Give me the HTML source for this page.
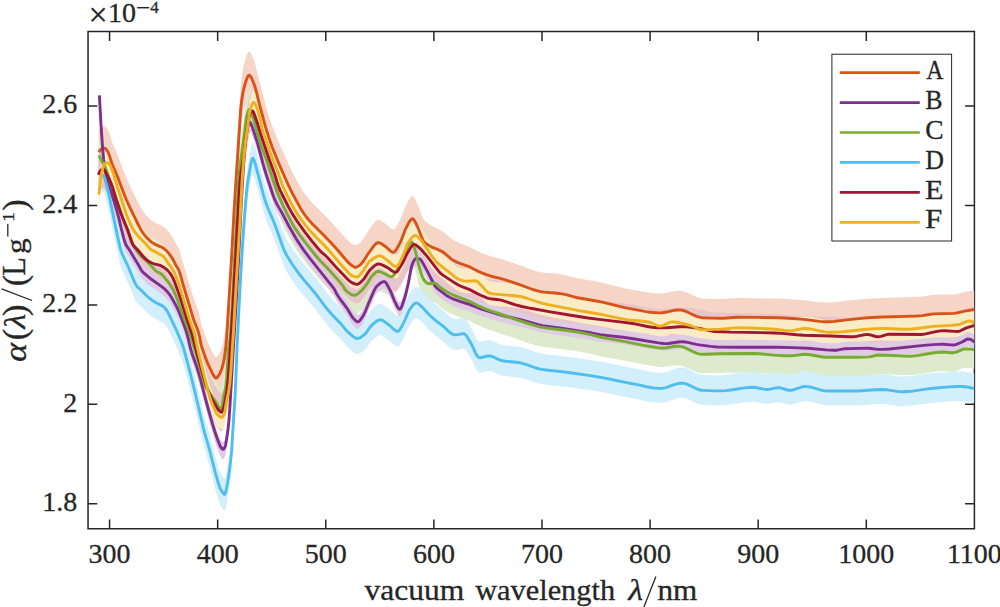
<!DOCTYPE html><html><head><meta charset="utf-8"><style>html,body{margin:0;padding:0;background:#fff;width:1000px;height:607px;overflow:hidden}svg{display:block}</style></head><body><svg width="1000" height="607" viewBox="0 0 1000 607">
<defs><clipPath id="ax"><rect x="87.95" y="31.6" width="886.4" height="497.1"/></clipPath></defs>
<rect width="1000" height="607" fill="#fff"/>
<path d="M88.05 31.6H974.4V528.7H88.05ZM109.57 528.7v-9.3M109.57 31.6v9.3M217.67 528.7v-9.3M217.67 31.6v9.3M325.78 528.7v-9.3M325.78 31.6v9.3M433.88 528.7v-9.3M433.88 31.6v9.3M541.99 528.7v-9.3M541.99 31.6v9.3M650.09 528.7v-9.3M650.09 31.6v9.3M758.19 528.7v-9.3M758.19 31.6v9.3M866.30 528.7v-9.3M866.30 31.6v9.3M974.40 528.7v-9.3M974.40 31.6v9.3M87.95 503.73h9.3M974.4 503.73h-9.3M87.95 404.31h9.3M974.4 404.31h-9.3M87.95 304.89h9.3M974.4 304.89h-9.3M87.95 205.47h9.3M974.4 205.47h-9.3M87.95 106.05h9.3M974.4 106.05h-9.3" fill="none" stroke="#262626" stroke-width="1.5"/>
<g clip-path="url(#ax)">
<path d="M98.6 130.1L100.0 128.3 101.1 127.3 103.0 126.4 104.5 126.2 105.2 126.4 106.0 127.1 108.1 130.2 109.2 132.9 112.1 142.3 117.4 154.5 122.9 169.2 126.4 178.0 129.5 184.8 138.4 203.3 140.6 207.5 142.7 210.9 146.4 215.6 149.2 218.5 151.5 220.5 154.7 222.5 162.3 226.0 164.5 227.5 166.6 229.3 169.0 232.2 172.0 236.5 173.8 239.6 175.5 243.2 178.2 247.6 179.2 249.8 180.4 253.4 183.5 264.5 193.0 296.4 198.5 311.2 199.4 314.6 201.3 324.2 205.2 335.9 207.9 342.8 212.3 352.1 214.7 356.0 215.3 356.7 215.9 357.0 216.5 356.9 217.1 356.4 219.2 353.7 220.5 351.2 221.9 347.5 223.1 343.1 224.2 337.7 225.8 325.8 227.4 305.1 231.5 237.0 234.2 186.5 240.7 86.4 242.1 74.6 243.7 65.8 245.4 59.4 246.8 55.1 248.0 52.5 248.5 52.0 249.0 51.7 249.5 51.8 250.0 52.2 251.2 53.9 252.7 57.3 254.9 63.0 265.5 104.8 269.0 116.4 272.7 127.2 277.7 139.8 287.3 161.8 291.2 170.0 295.4 178.1 299.9 186.1 303.1 191.4 306.1 195.6 309.7 200.0 312.6 203.2 318.3 208.7 330.1 220.9 347.6 240.3 351.3 243.5 354.5 245.2 355.7 245.3 357.1 244.8 359.5 243.2 361.4 241.4 363.4 238.8 368.3 230.8 373.2 224.0 375.4 221.4 377.2 220.1 378.1 219.9 379.1 220.0 381.5 221.0 386.7 224.7 390.3 228.1 391.8 229.1 393.3 229.5 394.6 228.9 395.6 227.8 396.7 226.2 400.4 219.4 405.1 207.1 408.6 200.3 410.8 197.0 411.7 196.2 412.6 196.0 413.2 196.3 413.8 196.8 415.3 199.4 418.7 207.0 421.8 215.5 423.1 218.5 424.1 220.0 426.1 222.0 431.7 225.7 442.7 231.4 445.1 233.2 450.9 238.4 454.2 240.5 460.4 243.5 470.3 247.2 478.8 251.7 481.9 253.2 491.4 256.6 501.1 259.1 506.9 260.9 520.4 265.4 532.6 270.0 538.4 271.7 543.9 272.7 557.1 273.7 562.3 274.4 577.5 278.3 597.8 281.8 624.4 288.2 645.0 292.1 653.7 293.3 661.0 293.6 665.3 293.0 675.3 290.9 680.1 290.6 682.4 290.9 684.9 291.7 696.6 297.0 699.4 298.0 701.9 298.4 711.3 298.9 719.7 299.0 737.1 298.1 778.8 298.6 801.1 299.9 819.7 302.2 827.8 302.6 834.3 302.3 848.9 300.5 871.9 298.4 882.8 297.9 916.5 296.9 922.3 296.5 933.9 294.8 953.9 294.4 957.1 293.9 964.7 292.0 974.4 290.5 974.4 328.5 964.7 330.1 957.1 332.0 953.9 332.5 933.9 332.9 922.3 334.7 916.5 335.1 882.8 336.1 871.9 336.7 848.9 338.8 834.3 340.7 827.8 341.1 819.7 340.6 801.1 338.4 778.8 337.1 737.1 336.7 719.7 337.7 711.3 337.6 701.9 337.2 699.4 336.7 696.6 335.8 684.9 330.5 682.4 329.8 680.1 329.4 675.3 329.8 665.4 331.9 661.2 332.4 654.3 332.2 646.0 331.2 624.6 327.2 597.7 320.8 577.5 317.4 562.3 313.6 557.1 312.9 544.0 311.9 538.5 311.0 532.7 309.3 520.3 304.7 506.1 299.9 500.3 298.2 491.0 296.0 481.8 292.8 478.8 291.4 470.2 287.0 460.6 283.6 454.7 281.0 451.1 278.8 444.9 273.4 442.4 271.6 439.3 270.0 431.3 266.7 427.7 264.8 425.7 263.4 423.9 261.7 423.0 260.4 421.8 257.7 418.8 249.7 415.4 242.3 413.9 239.7 413.2 239.0 412.6 238.8 411.7 239.0 410.8 239.7 408.6 243.0 405.1 249.9 400.4 262.2 396.7 269.0 395.6 270.6 394.6 271.7 393.3 272.3 391.8 272.0 390.3 270.9 386.7 267.6 381.5 264.0 379.1 262.9 378.1 262.9 377.2 263.1 375.5 264.3 373.5 266.6 368.4 273.6 363.9 280.8 361.8 283.5 359.7 285.5 357.5 286.9 356.0 287.6 354.7 287.5 351.5 285.7 348.0 282.6 337.8 270.8 331.7 264.1 323.0 255.0 312.8 245.0 309.9 241.9 306.5 237.8 303.6 233.8 300.7 229.2 296.9 222.5 292.1 213.6 287.6 204.3 278.0 182.4 272.3 168.4 268.8 158.5 265.5 147.9 254.9 107.8 251.3 99.1 250.1 97.3 249.1 96.7 248.6 97.0 248.1 97.5 246.9 100.0 245.6 104.0 243.7 111.0 242.1 119.6 240.7 131.3 234.2 230.6 231.5 280.8 227.4 348.4 225.8 368.9 224.2 380.7 223.1 386.1 221.9 390.5 220.5 394.2 219.2 396.8 217.1 399.5 216.5 400.0 215.9 400.1 215.3 399.8 214.7 399.1 212.3 395.2 207.9 385.9 205.2 379.1 201.3 367.4 199.4 357.8 198.5 354.4 193.0 339.7 183.5 307.8 180.4 296.8 179.2 293.2 178.2 291.0 175.5 286.6 173.8 283.0 172.0 279.9 169.0 275.7 166.6 272.8 164.5 271.0 162.3 269.5 154.7 266.1 151.5 264.1 149.2 262.1 146.4 259.2 142.7 254.5 140.6 251.2 138.4 247.0 129.5 228.6 126.4 221.8 122.9 213.1 117.4 198.3 112.1 186.2 109.2 176.8 108.1 174.2 106.0 171.0 105.2 170.3 104.5 170.1 103.0 170.4 101.1 171.2 100.0 172.3 98.6 174.1Z" fill="#F6D4C6"/>
<path d="M98.8 135.3L104.3 145.4 105.7 148.5 112.7 168.2 121.3 193.8 127.9 210.3 132.1 222.4 134.1 226.6 136.9 231.1 140.1 235.1 150.3 244.8 152.3 246.9 154.6 249.8 156.4 251.2 160.9 253.7 163.6 256.3 170.0 264.5 171.9 267.5 173.8 271.2 176.0 276.1 178.1 281.4 184.5 299.5 190.2 314.5 200.1 347.9 203.5 360.8 204.7 364.5 205.8 366.9 207.2 369.3 214.9 380.6 218.1 385.7 219.6 388.4 220.3 389.1 220.7 389.0 221.2 388.4 222.3 385.6 223.4 377.6 225.3 369.2 226.0 365.0 226.7 357.2 228.5 328.9 228.9 325.0 229.9 319.2 230.5 312.9 232.1 286.7 238.3 164.8 239.2 153.5 240.1 145.5 244.5 112.9 246.3 98.0 248.0 91.6 248.7 90.1 249.4 89.5 250.1 90.0 250.8 91.2 253.2 97.7 259.7 121.3 266.4 139.6 276.6 170.4 279.6 177.9 283.3 186.2 286.9 193.6 291.3 201.9 295.4 208.9 299.7 215.2 307.7 225.7 314.8 234.5 320.2 240.7 328.0 248.8 339.7 261.9 343.1 266.2 345.3 269.9 349.2 273.2 350.9 274.3 352.4 274.9 354.6 275.3 356.2 274.9 358.1 273.6 361.6 270.5 364.0 267.8 367.5 263.1 371.6 256.5 374.8 253.2 376.8 251.7 378.3 251.4 380.4 251.8 390.3 256.6 391.7 256.8 392.8 256.1 394.0 254.8 396.1 251.9 397.6 249.2 400.5 242.9 404.3 233.6 407.9 225.6 408.8 224.2 410.1 222.9 411.0 222.2 411.8 222.0 412.4 222.5 413.0 223.7 415.2 230.6 418.8 245.7 422.1 256.2 423.8 259.7 425.6 261.8 427.1 263.1 428.0 263.5 428.8 263.7 434.2 263.1 435.7 263.3 436.9 264.2 440.0 267.2 445.4 271.0 449.4 273.3 452.7 274.8 468.3 280.9 479.0 286.2 486.6 289.3 529.7 304.0 535.9 305.9 541.2 307.1 548.4 308.2 565.2 310.2 580.2 312.5 590.6 314.6 598.5 316.7 602.3 317.6 619.9 320.6 645.8 325.8 656.8 327.6 660.2 328.0 663.2 328.0 675.5 326.3 678.3 326.2 680.4 326.4 682.7 326.9 685.2 327.9 696.4 333.1 699.1 333.9 701.6 334.3 719.6 333.7 753.6 333.5 759.5 333.8 773.9 335.1 790.0 335.8 793.7 335.6 802.0 334.5 805.5 334.3 810.4 334.7 821.1 336.7 825.8 337.3 858.2 337.2 868.6 336.9 876.4 335.3 879.2 335.0 886.7 335.2 904.6 336.1 912.5 336.1 918.5 335.4 932.3 333.0 938.5 332.2 943.4 332.0 951.1 332.7 953.9 332.7 956.4 332.1 962.0 329.6 964.3 329.0 970.1 329.1 974.4 329.8 974.4 368.8 970.1 368.1 964.3 368.0 962.0 368.6 956.4 371.1 953.9 371.7 951.1 371.7 943.4 371.0 938.5 371.2 932.3 372.0 918.5 374.4 912.5 375.1 904.6 375.1 886.7 374.2 879.2 374.0 876.4 374.3 868.6 375.9 858.2 376.2 825.8 376.3 821.1 375.7 810.4 373.7 805.5 373.3 802.0 373.5 793.7 374.6 790.0 374.8 773.9 374.1 759.5 372.8 753.6 372.5 719.6 372.7 701.6 373.3 699.1 372.9 696.4 372.1 685.2 366.9 682.7 365.9 680.4 365.4 678.3 365.2 675.5 365.3 663.3 367.0 660.4 367.0 657.0 366.6 645.8 364.8 620.0 359.7 602.3 356.7 598.5 355.9 590.6 353.8 580.2 351.8 565.2 349.5 548.3 347.6 541.1 346.5 535.8 345.2 529.6 343.4 486.7 328.9 479.0 325.7 468.3 320.4 452.7 314.3 449.4 312.8 445.4 310.5 440.0 306.7 436.9 303.7 435.7 302.8 434.2 302.6 428.8 303.2 428.0 303.0 427.1 302.6 425.6 301.3 423.8 299.2 422.1 295.7 418.8 285.2 415.2 270.1 413.0 263.2 412.4 262.0 411.8 261.5 411.0 261.7 410.1 262.4 408.8 263.7 407.9 265.1 404.3 273.1 400.5 282.4 397.6 288.7 396.1 291.4 394.0 294.3 392.8 295.6 391.7 296.3 390.3 296.1 380.4 291.3 378.3 290.9 376.8 291.2 374.8 292.7 371.6 296.0 367.5 302.6 364.0 307.3 361.6 310.0 358.1 313.1 356.2 314.4 354.6 314.8 352.4 314.4 350.9 313.8 349.2 312.7 345.3 309.4 343.1 305.7 339.7 301.4 328.0 288.3 320.2 280.2 314.8 274.0 307.7 265.2 299.7 254.7 295.4 248.4 291.3 241.4 286.9 233.1 283.3 225.7 279.6 217.4 276.6 209.9 266.4 179.1 259.7 160.8 253.2 137.2 250.8 130.7 250.1 129.5 249.4 129.0 248.7 129.6 248.0 131.1 246.3 137.5 244.5 152.4 240.1 185.0 239.2 193.0 238.3 204.3 232.1 326.2 230.5 352.4 229.9 358.7 228.9 364.5 228.5 368.4 226.7 396.7 226.0 404.5 225.3 408.7 223.4 417.1 222.3 425.1 221.2 427.9 220.7 428.5 220.3 428.6 219.6 427.9 218.1 425.2 214.9 420.1 207.2 408.8 205.8 406.4 204.7 404.0 203.5 400.3 200.1 387.4 190.2 354.0 184.5 339.0 178.1 320.9 176.0 315.6 173.8 310.7 171.9 307.0 170.0 304.0 163.6 295.8 160.9 293.2 156.4 290.7 154.6 289.3 152.3 286.4 150.3 284.3 140.1 274.6 136.9 270.6 134.1 266.1 132.1 261.9 127.9 249.8 121.3 233.3 112.7 207.7 105.7 188.0 104.3 184.9 98.8 174.8Z" fill="#DDEACB"/>
<path d="M100.5 160.0L101.3 159.2 102.1 159.0 102.9 159.4 103.9 160.6 104.9 163.0 106.7 169.4 108.8 178.4 117.9 221.9 120.7 234.0 122.3 238.2 128.8 252.0 135.3 267.8 136.2 269.4 137.1 270.6 140.4 273.4 145.9 279.1 148.2 281.2 151.8 284.0 155.5 286.4 162.7 290.0 163.9 291.0 165.2 292.4 167.4 295.5 168.8 298.1 176.6 314.7 181.1 325.2 183.7 332.7 186.8 344.0 195.4 377.8 203.4 412.1 209.7 434.4 215.6 457.6 218.6 467.9 220.2 472.4 222.7 476.6 223.6 477.7 224.4 478.2 224.8 478.2 225.1 477.9 225.9 475.5 228.4 461.7 230.1 449.6 231.7 434.0 235.1 380.6 237.3 326.2 240.0 271.6 242.0 237.6 244.1 206.1 246.0 182.2 247.5 167.7 251.1 146.6 252.1 143.3 252.5 142.5 252.8 142.3 253.2 142.6 253.6 143.3 255.2 147.6 263.5 179.2 265.7 186.3 268.4 193.4 275.6 210.4 283.6 233.0 286.9 239.7 292.4 248.5 298.7 257.3 303.5 263.4 315.2 277.2 327.8 293.8 331.4 297.9 340.1 306.9 347.6 315.7 353.2 320.6 354.7 321.6 356.1 322.3 357.5 322.5 358.9 322.2 360.5 321.5 362.4 320.1 366.1 316.9 370.2 311.0 371.7 309.3 376.5 305.3 378.1 304.3 379.6 303.9 381.3 303.9 383.3 304.8 389.9 309.7 395.2 314.4 397.0 315.2 397.8 315.3 398.4 315.1 399.8 313.7 401.5 310.8 404.8 304.4 408.2 296.3 409.7 293.4 412.2 290.1 413.8 288.3 415.2 287.3 416.5 287.0 417.9 287.5 419.5 288.7 424.1 293.1 428.7 298.3 430.7 300.3 434.9 303.8 442.7 309.8 448.9 315.7 451.5 317.7 453.3 318.6 454.9 319.0 457.0 318.9 463.2 317.8 464.2 317.9 465.2 318.5 467.1 320.9 471.6 328.6 476.7 339.4 477.9 341.1 478.9 341.8 481.4 341.6 487.5 340.1 490.3 340.2 493.0 341.0 498.8 343.8 501.3 344.7 505.4 345.4 516.5 346.5 521.4 347.3 525.9 348.6 535.9 352.2 540.2 353.3 548.3 354.5 570.1 357.0 596.5 360.9 607.6 363.0 651.9 372.1 658.4 372.8 661.2 372.8 663.2 372.6 667.2 371.7 676.8 368.3 679.4 367.8 681.8 367.6 684.2 367.8 686.8 368.6 696.4 373.2 700.2 374.5 704.5 374.9 715.7 375.4 721.3 375.4 725.8 375.1 744.3 372.5 752.1 371.9 755.6 372.1 763.6 373.7 767.2 374.1 770.0 373.9 776.1 372.5 778.8 372.4 781.4 372.9 787.4 374.6 790.5 375.0 794.0 374.3 801.7 371.7 804.9 371.2 807.2 371.3 809.8 371.7 821.8 375.0 824.7 375.5 827.3 375.7 855.5 375.7 875.6 374.5 882.8 374.3 887.5 374.7 898.4 376.5 904.2 376.6 912.5 376.0 933.1 373.1 948.8 371.9 958.2 371.5 961.9 371.5 965.2 371.8 974.4 373.5 974.4 403.0 965.2 401.3 961.9 401.0 958.2 401.0 948.8 401.4 933.1 402.7 912.5 405.6 904.2 406.3 898.4 406.1 887.5 404.4 882.8 404.0 875.6 404.2 855.5 405.5 827.3 405.5 824.7 405.3 821.8 404.8 809.8 401.5 807.2 401.1 804.9 401.0 801.7 401.5 794.0 404.1 790.5 404.8 787.4 404.5 781.4 402.7 778.8 402.2 776.1 402.4 770.0 403.7 767.2 404.0 763.6 403.6 755.6 402.0 752.1 401.8 744.3 402.4 725.8 405.1 721.3 405.4 715.7 405.4 704.5 404.9 700.2 404.5 696.4 403.2 686.8 398.6 684.2 397.9 681.8 397.6 679.4 397.8 676.8 398.4 667.2 401.7 663.2 402.7 661.2 402.9 658.5 402.8 652.0 402.2 646.5 401.2 607.8 393.2 597.8 391.3 570.9 387.4 548.3 385.0 540.2 383.8 535.9 382.7 525.9 379.2 521.4 377.9 516.5 377.2 505.4 376.1 501.3 375.4 498.8 374.5 493.0 371.8 490.3 371.0 487.5 371.0 481.4 372.5 478.9 372.6 477.9 371.9 476.7 370.3 471.6 359.5 467.1 351.9 465.2 349.5 464.2 348.8 463.2 348.8 457.0 349.9 454.9 350.0 453.3 349.6 451.5 348.7 448.9 346.7 442.7 340.9 434.9 335.0 430.7 331.4 428.7 329.5 424.1 324.3 419.5 319.9 417.9 318.7 416.5 318.3 415.2 318.5 413.8 319.6 412.2 321.4 409.7 324.7 408.2 327.6 404.8 335.7 401.5 342.2 399.8 345.0 398.4 346.4 397.8 346.6 397.0 346.6 395.2 345.7 389.9 341.0 383.3 336.2 381.3 335.3 379.6 335.3 378.1 335.8 376.5 336.7 371.7 340.7 370.2 342.5 366.1 348.4 362.4 351.6 360.5 353.0 358.9 353.7 357.5 354.0 356.1 353.8 354.7 353.2 353.2 352.2 347.6 347.3 340.1 338.6 331.4 329.6 327.8 325.6 315.2 309.1 303.5 295.4 298.7 289.4 292.4 280.7 286.9 271.9 285.1 268.6 283.6 265.3 275.6 242.8 268.4 225.8 265.7 218.7 263.5 211.7 255.2 180.1 253.6 175.8 253.2 175.1 252.8 174.8 252.5 175.0 252.1 175.8 251.1 179.1 247.5 200.2 246.0 214.7 244.1 238.6 242.0 270.1 240.0 304.1 237.3 358.7 235.1 413.1 231.7 466.5 230.1 482.1 228.4 494.2 225.9 508.0 225.1 510.4 224.8 510.7 224.4 510.7 223.6 510.2 222.7 509.1 220.2 504.9 218.6 500.4 215.6 490.1 209.7 466.9 203.4 444.6 195.4 410.3 186.8 376.5 183.7 365.2 181.1 357.7 176.6 347.2 168.8 330.6 167.4 328.0 165.2 324.9 163.9 323.5 162.7 322.5 155.5 318.9 151.8 316.5 148.2 313.7 145.9 311.6 140.4 305.9 137.1 303.1 136.2 301.9 135.3 300.3 128.8 284.5 122.3 270.7 120.7 266.5 117.9 254.4 108.8 210.9 106.7 201.9 104.9 195.5 103.9 193.1 102.9 191.9 102.1 191.5 101.3 191.7 100.5 192.5Z" fill="#D2EFFB"/>
<path d="M98.4 155.7L99.5 153.0 100.3 151.7 102.1 150.3 103.5 150.0 104.1 150.5 104.8 151.5 108.9 159.6 110.8 163.8 112.4 167.8 116.0 180.0 120.8 194.0 127.7 211.3 131.7 223.2 132.6 225.2 133.4 226.5 134.6 227.9 137.8 231.0 142.5 236.9 145.2 239.6 147.4 241.4 150.3 243.2 153.2 244.5 155.2 245.2 159.5 246.2 161.4 246.9 163.6 248.2 165.9 249.9 167.8 251.6 169.5 253.6 171.3 256.2 173.1 259.4 174.8 263.4 179.5 276.5 182.5 285.6 187.0 300.5 191.8 314.2 197.3 335.3 204.5 361.2 206.3 366.8 209.4 374.6 212.8 381.4 218.0 390.4 220.0 392.6 221.2 393.3 221.6 393.2 221.9 393.0 222.6 391.8 223.6 389.2 224.3 386.4 226.9 371.4 228.4 357.6 232.2 300.2 239.2 174.0 240.1 161.2 241.2 152.3 243.8 136.7 246.3 115.2 248.2 102.4 249.0 98.3 250.1 94.5 251.1 92.5 251.6 91.9 252.0 91.7 252.6 92.0 253.3 92.9 254.8 96.5 257.4 104.2 260.6 114.7 269.2 140.3 274.6 154.9 277.3 163.9 278.4 167.0 282.2 175.5 288.6 188.1 292.4 194.9 297.4 202.7 305.1 213.3 311.8 222.0 318.9 230.5 321.7 233.4 327.2 238.2 337.8 250.1 348.8 261.4 350.1 262.5 352.1 263.7 355.3 265.0 356.7 265.3 357.8 265.2 359.1 264.5 360.6 263.3 364.1 259.7 368.2 253.3 369.7 251.3 374.4 246.9 375.9 245.8 377.3 245.2 379.3 245.1 381.7 245.7 388.6 249.3 393.7 252.8 395.4 253.3 396.6 252.9 397.5 252.1 398.6 250.6 402.4 244.3 407.0 234.7 410.7 228.6 412.6 226.1 413.4 225.6 414.2 225.5 415.3 225.8 416.6 226.6 419.6 229.0 421.2 230.5 427.1 237.4 439.0 252.7 440.7 254.4 443.2 256.4 454.0 263.4 458.8 266.2 461.9 267.6 469.7 270.6 478.6 275.2 486.8 278.8 490.5 279.7 498.5 280.7 502.0 281.4 505.8 282.6 515.5 285.9 521.9 287.5 530.6 289.3 550.4 292.9 570.7 296.3 588.1 299.0 631.1 304.2 652.0 308.3 656.9 308.8 661.4 308.9 679.5 307.8 686.0 307.7 691.4 308.2 700.6 309.6 710.8 311.9 715.1 312.5 730.5 313.1 774.6 314.0 781.6 314.4 803.5 316.2 830.6 317.0 849.2 317.8 854.9 317.6 864.0 315.8 867.8 315.5 870.3 315.9 875.7 317.5 878.1 317.8 880.8 317.4 886.7 315.7 889.3 315.2 921.0 315.5 925.6 314.9 935.9 312.6 940.5 311.9 944.5 311.8 954.4 312.4 958.1 312.5 960.4 311.8 965.8 309.1 974.4 306.5 974.4 344.5 965.8 347.1 960.4 349.8 958.1 350.5 954.4 350.4 944.5 349.8 940.5 349.9 935.9 350.6 925.6 352.9 921.0 353.5 889.3 353.2 886.7 353.7 880.8 355.4 878.1 355.8 875.7 355.5 870.3 353.9 867.8 353.5 864.0 353.8 854.9 355.6 849.2 355.8 830.6 355.0 803.5 354.2 781.6 352.4 774.6 352.0 730.5 351.1 715.1 350.5 710.8 349.9 700.6 347.6 691.4 346.2 686.0 345.7 679.5 345.8 661.4 346.9 656.9 346.8 652.0 346.3 631.1 342.2 588.1 337.0 570.7 334.3 550.4 330.9 530.6 327.3 521.9 325.5 515.5 323.9 505.8 320.6 502.0 319.4 498.5 318.7 490.5 317.7 486.8 316.8 478.6 313.2 469.7 308.6 461.9 305.6 458.8 304.2 454.0 301.4 443.2 294.4 440.7 292.4 439.0 290.7 427.1 275.4 421.2 268.5 419.6 267.0 416.6 264.6 415.3 263.8 414.2 263.5 413.4 263.6 412.6 264.1 410.7 266.6 407.0 272.7 402.4 282.3 398.6 288.6 397.5 290.1 396.6 290.9 395.4 291.3 393.7 290.8 388.6 287.3 381.7 283.7 379.3 283.1 377.3 283.2 375.9 283.8 374.4 284.9 369.7 289.3 368.2 291.3 364.1 297.7 360.6 301.3 359.1 302.5 357.8 303.2 356.7 303.3 355.3 303.0 352.1 301.7 350.1 300.5 348.8 299.4 337.8 288.1 327.2 276.2 321.7 271.4 318.9 268.5 311.8 260.0 305.1 251.3 297.4 240.7 292.4 232.9 288.6 226.1 282.2 213.5 278.4 205.0 277.3 201.9 274.6 192.9 269.2 178.3 260.6 152.7 257.4 142.2 254.8 134.5 253.3 130.9 252.6 130.0 252.0 129.7 251.6 129.9 251.1 130.5 250.1 132.5 249.0 136.3 248.2 140.4 246.3 153.2 243.8 174.7 241.2 190.3 240.1 199.2 239.2 212.0 232.2 338.2 228.4 395.6 226.9 409.4 224.3 424.4 223.6 427.2 222.6 429.8 221.9 431.0 221.6 431.2 221.2 431.3 220.0 430.6 218.0 428.4 212.8 419.4 209.4 412.6 206.3 404.8 204.5 399.2 197.3 373.3 191.8 352.2 187.0 338.5 182.5 323.6 179.5 314.5 174.8 301.4 173.1 297.4 171.3 294.2 169.5 291.6 167.8 289.6 165.9 287.9 163.6 286.2 161.4 284.9 159.5 284.2 155.2 283.2 153.2 282.5 150.3 281.2 147.4 279.4 145.2 277.6 142.5 274.9 137.8 269.0 134.6 265.9 133.4 264.5 132.6 263.2 131.7 261.2 127.7 249.3 120.8 232.0 116.0 218.0 112.4 205.8 110.8 201.8 108.9 197.6 104.8 189.5 104.1 188.5 103.5 188.0 102.1 188.3 100.3 189.7 99.5 191.0 98.4 193.7Z" fill="#E8C4CB"/>
<path d="M98.8 182.5L101.2 163.7 102.2 158.7 103.2 154.8 104.0 153.0 105.1 151.6 106.1 150.8 106.8 150.6 107.4 150.7 108.9 151.8 110.5 153.8 111.9 157.2 114.3 164.5 118.1 177.3 126.3 202.2 130.2 211.5 133.6 218.0 135.5 220.9 137.8 223.7 140.3 226.4 145.2 231.2 150.2 236.9 151.8 238.0 155.6 239.9 162.3 243.8 164.1 245.1 165.0 246.3 167.3 250.1 171.4 255.5 173.2 258.4 176.0 264.6 179.8 275.1 188.9 305.6 194.1 320.7 195.0 324.2 198.4 340.1 202.8 358.4 207.9 378.3 210.3 386.7 212.8 393.3 216.5 401.3 217.6 402.8 218.8 404.0 220.2 404.9 221.4 405.3 222.3 405.1 223.4 403.7 224.1 402.3 224.8 399.9 226.4 390.6 228.7 379.1 229.9 370.4 231.1 355.7 233.6 317.0 240.1 207.3 242.0 169.8 243.4 150.4 245.3 131.5 249.4 101.9 250.1 98.4 251.5 93.7 252.5 91.3 253.3 90.5 254.2 90.9 255.2 92.2 258.0 98.5 259.2 103.0 262.0 116.3 263.8 122.4 269.9 139.8 278.5 162.0 282.1 172.2 284.4 177.7 287.0 183.2 294.4 197.2 297.6 202.4 301.4 207.9 305.6 213.4 310.5 219.2 314.7 223.8 327.6 236.9 341.6 253.3 348.4 260.7 350.8 262.9 353.8 264.4 357.0 265.0 357.8 264.8 358.7 264.2 360.1 262.7 363.7 258.1 367.7 251.7 369.4 249.5 374.5 245.8 376.5 244.7 378.3 244.1 380.4 243.9 382.2 244.6 388.9 249.7 393.7 253.8 395.6 254.6 396.4 254.7 397.0 254.4 397.9 253.6 398.9 252.1 402.4 245.2 406.4 234.3 407.8 231.3 410.5 227.3 412.2 225.2 413.8 223.9 415.3 223.5 416.3 223.8 417.4 224.5 421.0 228.1 425.6 234.6 432.4 244.9 436.1 249.5 442.6 255.1 455.3 265.2 457.3 266.7 459.0 267.5 464.2 268.9 467.5 269.2 475.1 268.8 476.6 269.0 478.6 270.6 482.5 274.7 486.5 279.3 487.6 280.2 488.7 280.7 491.6 281.6 495.1 282.1 514.1 283.7 520.3 284.5 526.1 286.0 539.3 290.5 546.8 292.3 582.7 299.3 603.2 302.8 626.7 307.6 631.9 308.3 643.3 309.3 648.4 310.0 650.9 310.7 656.5 313.3 658.9 314.0 660.5 314.1 662.1 313.8 663.9 313.1 669.5 310.4 671.3 310.0 673.1 309.9 676.2 310.2 679.7 310.8 690.3 313.5 692.6 314.3 698.5 317.0 701.7 317.7 709.0 317.6 720.6 317.1 734.8 315.9 741.7 315.8 755.9 316.2 775.0 317.3 786.0 318.6 790.2 318.8 793.8 318.4 802.0 316.7 805.6 316.5 811.5 317.1 824.9 319.9 828.1 320.2 831.1 320.3 842.8 319.7 866.8 317.3 877.0 316.6 885.6 316.5 903.8 317.3 911.8 317.0 933.5 314.4 951.2 313.4 957.7 312.8 960.3 312.1 966.3 309.6 969.0 309.0 970.1 309.1 971.3 309.4 974.4 311.3 974.4 335.3 971.3 333.4 970.1 333.1 969.0 333.0 966.3 333.6 960.3 336.1 957.7 336.8 951.2 337.4 933.5 338.4 911.8 341.0 903.8 341.3 885.6 340.5 877.0 340.6 866.8 341.3 842.8 343.7 831.1 344.3 828.1 344.2 824.9 343.9 811.5 341.1 805.6 340.5 802.0 340.7 793.8 342.4 790.2 342.8 786.0 342.6 775.0 341.3 755.9 340.2 741.7 339.8 734.8 339.9 720.6 341.1 709.0 341.6 701.7 341.7 698.5 341.0 692.6 338.3 690.3 337.5 679.7 334.8 676.2 334.2 673.1 333.9 671.3 334.0 669.5 334.4 663.9 337.1 662.1 337.8 660.5 338.1 658.9 338.0 656.5 337.3 650.9 334.7 648.4 334.0 643.3 333.3 631.9 332.3 626.7 331.6 603.2 326.8 582.7 323.3 546.8 316.3 539.3 314.5 526.1 310.0 520.3 308.5 514.1 307.7 495.1 306.1 491.6 305.6 488.7 304.7 487.6 304.2 486.5 303.3 482.5 298.7 478.6 294.6 476.6 293.0 475.1 292.8 467.5 293.2 464.2 292.9 459.0 291.5 457.3 290.7 455.3 289.2 442.6 279.1 436.1 273.5 432.4 268.9 425.6 258.6 421.0 252.1 417.4 248.5 416.3 247.8 415.3 247.5 413.8 247.9 412.2 249.2 410.5 251.3 407.8 255.3 406.4 258.3 402.4 269.2 398.9 276.1 397.9 277.6 397.0 278.4 396.4 278.7 395.6 278.6 393.7 277.8 388.9 273.7 382.2 268.6 380.4 267.9 378.3 268.1 376.5 268.7 374.5 269.8 369.4 273.5 367.7 275.7 363.7 282.1 360.1 286.7 358.7 288.2 357.8 288.8 357.0 289.0 353.8 288.4 350.8 286.9 348.4 284.7 341.6 277.3 327.6 260.9 314.7 247.8 310.5 243.2 305.6 237.4 301.4 231.9 297.6 226.4 294.4 221.2 287.0 207.2 284.4 201.7 282.1 196.2 278.5 186.0 269.9 163.8 263.8 146.4 262.0 140.3 259.2 127.0 258.0 122.5 255.2 116.2 254.2 114.9 253.3 114.5 252.5 115.3 251.5 117.7 250.1 122.4 249.4 125.9 245.3 155.5 243.4 174.4 242.0 193.8 240.1 231.3 233.6 341.0 231.1 379.7 229.9 394.4 228.7 403.1 226.4 414.6 224.8 423.9 224.1 426.3 223.4 427.7 222.3 429.1 221.4 429.3 220.2 428.9 218.8 428.0 217.6 426.8 216.5 425.3 212.8 417.3 210.3 410.7 207.9 402.3 202.8 382.4 198.4 364.1 195.0 348.2 194.1 344.7 188.9 329.6 179.8 299.1 176.0 288.6 173.2 282.4 171.4 279.5 167.3 274.1 165.0 270.3 164.1 269.1 162.3 267.8 155.6 263.9 151.8 262.0 150.2 260.9 145.2 255.2 140.3 250.4 137.8 247.7 135.5 244.9 133.6 242.0 130.2 235.5 126.3 226.2 118.1 201.3 114.3 188.5 111.9 181.2 110.5 177.8 108.9 175.8 107.4 174.7 106.8 174.6 106.1 174.8 105.1 175.6 104.0 177.0 103.2 178.8 102.2 182.7 101.2 187.7 98.8 206.5Z" fill="#FAECC7"/>
<path d="M99.4 88.3L101.0 117.8 102.6 141.2 103.6 152.4 105.0 162.0 107.1 171.6 117.0 204.2 118.6 210.2 121.4 222.2 125.1 235.6 126.7 239.2 130.4 244.6 138.9 258.7 141.1 262.8 141.9 264.0 143.7 265.9 148.6 270.2 162.4 280.1 166.4 283.7 169.1 286.9 171.2 290.0 175.1 296.9 177.8 302.2 181.4 310.9 184.7 319.8 186.7 325.8 187.8 329.8 190.7 342.3 192.4 347.7 196.4 358.7 198.3 364.7 209.6 406.9 214.8 424.5 217.4 432.1 220.1 439.0 221.3 440.9 222.2 441.8 222.9 442.3 223.5 442.2 224.2 441.4 225.3 439.0 225.7 437.5 227.8 424.3 229.0 413.0 237.1 279.1 241.4 193.6 243.6 157.6 244.8 142.1 246.2 129.6 247.1 123.6 248.2 118.0 248.8 115.6 249.3 114.8 249.7 115.0 250.2 115.5 251.6 118.1 254.9 127.7 257.6 136.4 263.4 158.1 266.4 168.1 273.4 189.3 275.0 193.2 277.2 197.6 282.5 206.9 292.3 225.1 296.9 232.9 300.8 238.9 309.9 251.3 333.6 281.1 334.6 282.7 336.2 286.0 338.2 289.3 347.6 302.2 352.4 310.3 355.4 313.5 357.2 314.7 358.4 314.7 359.7 313.7 361.1 311.9 363.8 307.7 365.4 304.3 369.0 295.3 373.3 285.4 375.8 280.5 376.9 279.1 379.5 276.8 381.3 275.5 382.9 274.8 384.1 274.6 384.8 274.7 385.7 275.5 386.6 276.7 390.5 284.0 394.2 293.3 397.4 299.8 398.3 301.2 399.1 302.0 399.8 302.3 400.4 302.0 401.2 300.8 402.2 298.3 404.5 291.5 405.8 287.0 408.4 276.1 410.8 262.7 411.8 258.6 413.3 254.9 414.4 252.8 415.4 251.7 416.4 251.5 420.0 252.1 420.7 252.6 421.5 253.6 426.9 263.4 433.9 277.0 435.1 279.0 436.2 280.4 438.2 282.2 446.4 288.4 449.6 290.3 453.6 292.2 460.5 294.7 470.0 297.6 479.8 301.5 498.5 307.4 504.6 309.0 520.7 312.7 538.5 317.7 548.1 319.5 585.3 324.9 599.8 327.6 623.0 330.2 658.5 335.9 663.5 336.5 668.3 336.5 678.4 335.0 682.8 334.8 687.7 335.4 699.3 337.9 710.5 339.4 717.2 340.0 732.2 340.3 777.2 340.3 792.0 340.6 808.2 341.2 826.1 342.9 833.4 343.3 837.0 343.2 844.5 341.8 858.9 341.4 868.4 341.3 877.8 342.4 883.1 342.4 889.4 342.0 923.8 338.4 933.3 337.6 943.0 337.3 951.0 337.9 953.7 338.0 955.7 337.6 958.1 336.7 962.6 334.7 966.3 332.4 967.8 332.0 969.5 332.2 971.2 332.7 972.8 333.7 974.4 335.0 974.4 349.0 972.8 347.7 971.2 346.7 969.5 346.2 967.8 346.0 966.3 346.4 962.6 348.7 958.1 350.7 955.7 351.6 953.7 352.0 951.0 351.9 943.0 351.3 933.3 351.6 923.8 352.4 889.4 356.0 883.1 356.4 877.8 356.4 868.4 355.3 858.9 355.4 844.5 355.8 837.0 357.2 833.4 357.3 826.1 356.9 808.2 355.2 792.0 354.6 777.2 354.3 732.2 354.3 717.2 354.0 710.5 353.4 699.3 351.9 687.7 349.4 682.8 348.8 678.4 349.0 668.3 350.5 663.5 350.5 658.5 349.9 623.0 344.2 599.8 341.6 585.3 338.9 548.1 333.5 538.5 331.7 520.7 326.7 504.6 323.0 498.5 321.4 479.8 315.5 470.0 311.6 460.5 308.7 453.6 306.2 449.6 304.3 446.4 302.4 438.2 296.2 436.2 294.4 435.1 293.0 433.9 291.0 426.9 277.4 421.5 267.6 420.7 266.6 420.0 266.1 416.4 265.5 415.4 265.7 414.4 266.8 413.3 268.9 411.8 272.6 410.8 276.7 408.4 290.1 405.8 301.0 404.5 305.5 402.2 312.3 401.2 314.8 400.4 316.0 399.8 316.3 399.1 316.0 398.3 315.2 397.4 313.8 394.2 307.3 390.5 298.0 386.6 290.7 385.7 289.5 384.8 288.7 384.1 288.6 382.9 288.8 381.3 289.5 379.5 290.8 376.9 293.1 375.8 294.5 373.3 299.4 369.0 309.3 365.4 318.3 363.8 321.7 361.1 325.9 359.7 327.7 358.4 328.7 357.2 328.7 355.4 327.5 352.4 324.3 347.6 316.2 338.2 303.3 336.2 300.0 334.6 296.7 333.6 295.1 310.0 265.5 300.9 253.1 296.9 247.0 292.3 239.3 282.5 221.2 277.1 211.9 275.0 207.7 273.4 203.7 266.3 182.4 263.4 172.7 257.6 151.2 254.9 142.6 251.6 133.0 250.2 130.4 249.7 129.9 249.3 129.7 248.8 130.5 248.2 133.0 247.1 138.6 246.2 144.6 244.9 156.0 243.6 172.8 241.4 208.9 237.1 294.9 229.0 429.4 227.8 440.9 225.8 453.8 225.4 455.5 224.4 457.9 223.7 459.0 223.0 459.3 221.7 458.2 220.2 455.9 217.6 449.2 215.2 442.0 209.9 423.8 198.5 380.3 196.8 374.9 192.6 363.3 190.7 357.2 186.8 341.0 183.3 330.8 180.0 322.1 177.9 317.2 175.2 311.9 171.2 304.7 169.1 301.6 166.4 298.4 162.4 294.7 148.6 284.7 143.7 280.3 141.9 278.4 141.1 277.3 138.9 273.1 130.4 258.9 126.7 253.5 125.1 249.9 121.4 236.5 118.6 224.4 117.0 218.3 107.1 185.7 105.0 176.1 103.6 166.4 102.6 155.2 101.0 131.9 99.4 102.3Z" fill="#DFCBE3"/>
</g>
<g clip-path="url(#ax)" fill="none" stroke-width="2.9" stroke-linejoin="round" stroke-linecap="butt">
<path d="M98.6 152.1L100.0 150.3 101.1 149.2 103.0 148.4 104.5 148.1 105.2 148.3 106.0 149.0 108.1 152.2 109.2 154.8 112.1 164.2 117.4 176.3 122.9 191.1 126.4 199.8 129.5 206.6 138.4 225.0 140.6 229.2 142.7 232.5 144.6 235.1 146.4 237.2 149.2 240.1 151.5 242.1 153.0 243.1 154.7 244.1 160.9 246.8 162.3 247.5 164.5 249.0 166.6 250.8 169.0 253.7 172.0 257.9 173.8 261.0 175.5 264.6 178.2 269.0 179.2 271.2 180.4 274.8 183.5 285.8 193.0 317.7 194.3 321.5 197.2 328.6 198.5 332.4 199.4 335.8 201.3 345.4 205.2 357.1 207.9 363.9 212.3 373.2 213.2 374.9 214.7 377.1 215.3 377.8 215.9 378.1 216.5 378.0 217.1 377.5 219.2 374.8 220.5 372.2 221.9 368.5 223.1 364.1 224.2 358.7 225.0 353.5 225.8 346.9 226.5 339.4 227.4 326.4 231.5 258.8 234.2 208.6 240.7 109.3 241.2 104.5 242.1 97.7 242.9 92.9 243.7 89.2 245.5 82.6 246.8 78.6 248.0 76.0 248.5 75.5 249.0 75.2 249.5 75.3 250.0 75.7 251.2 77.4 252.6 80.5 254.8 86.2 256.3 91.5 259.5 104.5 265.4 126.6 268.7 137.3 272.2 147.2 277.9 161.3 287.6 183.5 292.0 192.6 296.7 201.4 300.5 208.2 303.5 213.0 306.4 217.0 309.8 221.1 312.8 224.4 317.8 229.2 323.1 234.6 331.7 243.6 337.8 250.3 348.0 262.2 351.5 265.3 353.6 266.6 354.7 267.2 355.4 267.3 356.0 267.2 357.5 266.6 359.7 265.2 361.8 263.2 363.9 260.5 368.4 253.3 373.5 246.4 375.5 244.1 376.4 243.3 377.2 242.9 378.1 242.7 379.1 242.8 380.2 243.2 381.5 243.8 386.7 247.5 390.3 250.9 391.8 251.9 392.6 252.2 393.3 252.3 393.9 252.1 394.6 251.7 395.6 250.6 396.7 249.0 400.4 242.2 401.6 239.4 405.1 229.9 408.6 223.1 409.8 221.1 410.8 219.8 411.7 219.0 412.6 218.8 413.2 219.1 413.9 219.8 415.4 222.4 418.8 229.7 421.8 237.7 423.0 240.4 423.9 241.8 425.7 243.5 427.7 244.8 431.3 246.8 439.3 250.1 442.4 251.7 444.9 253.5 451.1 258.8 452.6 259.9 454.7 261.1 457.4 262.4 460.6 263.7 467.7 266.2 470.2 267.2 478.8 271.6 481.8 272.9 486.5 274.7 491.0 276.1 494.2 277.0 500.3 278.4 506.1 280.1 520.3 284.9 532.7 289.5 538.5 291.2 541.1 291.7 544.0 292.1 557.1 293.2 562.3 293.9 566.0 294.7 574.0 296.9 577.5 297.8 597.7 301.2 604.3 302.7 624.6 307.6 646.0 311.6 650.4 312.2 654.3 312.6 658.0 312.9 661.2 312.9 665.4 312.3 675.3 310.2 677.9 310.0 680.1 309.9 682.4 310.2 684.9 311.0 687.8 312.2 693.9 315.2 696.6 316.3 699.4 317.2 701.9 317.7 711.3 318.1 719.7 318.3 723.7 318.2 733.0 317.5 737.1 317.3 757.3 317.4 778.8 317.8 788.2 318.2 801.1 319.1 806.0 319.6 819.7 321.4 824.0 321.7 827.8 321.8 834.3 321.4 848.9 319.6 864.1 318.1 871.9 317.5 882.8 317.0 906.4 316.4 916.5 316.0 922.3 315.6 930.6 314.2 933.9 313.9 953.9 313.4 957.1 312.9 964.7 311.1 974.4 309.5" stroke="#D95319"/>
<path d="M99.4 95.3L101.0 124.8 102.6 148.2 103.6 159.4 105.0 169.0 106.0 174.1 107.1 178.6 113.6 199.7 117.0 211.2 118.6 217.2 121.4 229.2 123.8 238.3 125.1 242.6 125.9 244.7 126.7 246.2 129.1 249.5 130.4 251.6 138.9 265.7 141.1 269.8 141.9 271.0 143.7 272.9 148.6 277.2 151.7 279.5 162.4 287.1 164.5 288.8 166.4 290.7 169.1 293.9 171.2 297.0 175.1 303.9 177.8 309.2 179.5 313.1 181.4 317.9 184.7 326.8 186.7 332.8 187.8 336.8 190.7 349.3 192.4 354.7 196.4 365.7 198.3 371.7 200.4 379.2 205.1 397.4 209.6 413.9 212.4 423.7 214.8 431.5 217.4 439.1 220.1 446.0 220.7 447.1 221.3 447.9 222.2 448.8 222.9 449.3 223.5 449.2 224.2 448.4 225.3 446.0 225.7 444.5 227.8 431.3 229.0 420.0 230.0 405.1 237.1 286.1 238.5 260.4 241.4 200.6 243.6 164.6 244.8 149.1 246.2 136.6 247.1 130.6 248.2 125.0 248.8 122.6 249.1 121.9 249.3 121.8 249.7 122.0 250.2 122.5 251.6 125.1 254.9 134.7 257.6 143.4 263.4 165.1 266.4 175.1 273.4 196.3 275.0 200.2 277.2 204.6 282.5 213.9 289.0 226.2 292.3 232.1 296.9 239.9 300.8 245.9 305.0 251.8 309.9 258.3 333.6 288.1 334.6 289.7 336.2 293.0 338.2 296.3 340.5 299.7 347.6 309.2 352.4 317.3 355.4 320.5 356.4 321.3 357.2 321.7 357.8 321.8 358.4 321.7 359.0 321.3 359.7 320.7 361.1 318.9 363.8 314.7 365.4 311.3 369.0 302.3 373.3 292.4 374.6 289.6 375.8 287.5 376.9 286.1 379.5 283.8 381.3 282.5 382.9 281.8 384.1 281.6 384.8 281.7 385.7 282.5 386.6 283.7 390.5 291.0 394.2 300.3 397.4 306.8 398.3 308.2 399.1 309.0 399.8 309.3 400.4 309.0 401.2 307.8 402.2 305.3 404.5 298.5 405.8 294.0 408.4 283.1 410.8 269.7 411.8 265.6 413.3 261.9 414.4 259.8 415.4 258.7 415.8 258.5 416.4 258.5 418.2 258.7 420.0 259.1 420.7 259.6 421.5 260.6 426.9 270.4 433.9 284.0 435.1 286.0 436.2 287.4 438.2 289.2 446.4 295.4 449.6 297.3 453.6 299.2 460.5 301.7 470.0 304.6 479.8 308.5 489.6 311.5 498.5 314.4 504.6 316.0 520.7 319.7 534.0 323.5 538.5 324.7 542.4 325.6 548.1 326.5 564.6 328.8 585.3 331.9 590.9 332.8 599.8 334.6 623.0 337.2 634.7 339.0 658.5 342.9 663.5 343.5 666.0 343.6 668.3 343.5 678.4 342.0 680.7 341.8 682.8 341.8 685.1 342.0 687.7 342.4 696.2 344.3 699.3 344.9 710.5 346.4 717.2 347.0 732.2 347.3 777.2 347.3 792.0 347.6 808.2 348.2 826.1 349.9 833.4 350.3 837.0 350.2 842.5 349.1 844.5 348.8 858.9 348.4 868.4 348.3 870.8 348.5 877.8 349.4 883.1 349.4 889.4 349.0 923.8 345.4 933.3 344.6 938.4 344.4 943.0 344.3 951.0 344.9 953.7 345.0 955.7 344.6 958.1 343.7 962.6 341.7 966.3 339.4 967.8 339.0 969.5 339.2 971.2 339.7 972.8 340.7 974.4 342.0" stroke="#7E2F8E"/>
<path d="M98.8 155.3L101.9 161.2 104.3 165.4 105.7 168.5 112.7 188.2 118.9 206.9 121.3 213.8 123.1 218.5 127.9 230.3 132.1 242.4 133.0 244.5 134.1 246.6 136.9 251.1 140.1 255.1 141.8 256.9 145.8 260.4 150.3 264.8 152.3 266.9 154.6 269.8 156.4 271.2 160.9 273.7 162.2 274.8 163.6 276.3 167.7 281.3 170.0 284.5 171.9 287.5 173.8 291.2 176.0 296.1 178.1 301.4 184.5 319.5 188.5 329.8 190.2 334.5 200.1 367.9 203.5 380.8 204.7 384.5 205.8 386.9 207.2 389.3 214.9 400.6 218.1 405.7 219.6 408.4 220.3 409.1 220.7 409.0 221.2 408.4 221.8 407.1 222.3 405.6 223.4 397.6 225.3 389.2 226.0 385.0 226.7 377.2 228.5 348.9 228.9 345.0 229.9 339.2 230.5 332.9 231.2 322.8 232.1 306.7 236.0 232.0 238.3 184.8 239.2 173.5 240.1 165.5 244.5 132.9 246.3 118.0 247.1 114.6 248.0 111.6 248.7 110.1 249.1 109.6 249.4 109.5 249.7 109.6 250.1 110.0 250.8 111.2 253.2 117.7 254.3 121.4 258.5 137.3 259.7 141.3 261.5 146.5 266.4 159.6 274.6 184.7 276.6 190.4 279.6 197.9 283.3 206.2 286.9 213.6 291.3 221.9 295.4 228.9 299.7 235.2 307.7 245.7 314.8 254.5 320.2 260.7 328.0 268.8 339.7 281.9 343.1 286.2 344.7 289.0 345.3 289.9 347.4 291.8 349.2 293.2 350.9 294.3 352.4 294.9 353.5 295.2 354.6 295.3 355.4 295.2 356.2 294.9 358.1 293.6 361.6 290.5 364.0 287.8 367.5 283.1 370.5 278.0 371.6 276.5 374.8 273.2 375.9 272.3 376.8 271.7 377.6 271.5 378.3 271.4 379.3 271.5 380.4 271.8 385.7 274.3 389.0 276.1 390.3 276.6 391.7 276.8 392.8 276.1 394.0 274.8 396.1 271.9 397.6 269.2 400.5 262.9 404.3 253.6 407.9 245.6 408.8 244.2 410.1 242.9 411.0 242.2 411.8 242.0 412.1 242.1 412.4 242.5 413.0 243.7 415.2 250.6 416.1 254.0 418.8 265.7 420.8 272.3 422.1 276.2 423.0 278.3 423.8 279.7 425.6 281.8 427.1 283.1 428.0 283.5 428.8 283.7 434.2 283.1 435.1 283.1 435.7 283.3 436.9 284.2 440.0 287.2 445.4 291.0 449.4 293.3 452.7 294.8 459.3 297.3 468.3 300.9 471.4 302.3 479.0 306.2 486.6 309.3 491.4 311.1 500.2 314.0 514.0 318.8 529.7 324.0 535.9 325.9 541.2 327.1 548.4 328.2 565.2 330.2 580.2 332.5 590.6 334.6 598.5 336.7 602.3 337.6 619.9 340.6 633.7 343.3 645.8 345.8 656.8 347.6 660.2 348.0 663.2 348.0 666.4 347.7 675.5 346.3 678.3 346.2 680.4 346.4 682.7 346.9 685.2 347.9 693.5 351.9 696.4 353.1 699.1 353.9 701.6 354.3 706.3 354.2 719.6 353.7 753.6 353.5 759.5 353.8 773.9 355.1 784.0 355.7 790.0 355.8 793.7 355.6 802.0 354.5 805.5 354.3 810.4 354.7 821.1 356.7 825.8 357.3 858.2 357.2 868.6 356.9 870.9 356.6 876.4 355.3 879.2 355.0 886.7 355.2 904.6 356.1 909.6 356.2 912.5 356.1 918.5 355.4 932.3 353.0 938.5 352.2 943.4 352.0 951.1 352.7 953.9 352.7 956.4 352.1 962.0 349.6 964.3 349.0 970.1 349.1 972.4 349.4 974.4 349.8" stroke="#77AC30"/>
<path d="M100.5 176.0L101.3 175.2 102.1 175.0 102.9 175.4 103.9 176.6 104.9 179.0 106.7 185.4 108.8 194.4 117.9 237.9 120.7 250.0 122.3 254.2 128.8 268.0 132.0 276.1 135.3 283.8 136.2 285.4 137.1 286.6 140.4 289.4 145.9 295.1 148.2 297.2 151.8 300.0 155.5 302.4 157.3 303.4 161.0 305.1 162.7 306.0 163.9 307.0 165.2 308.4 167.4 311.5 168.8 314.1 176.6 330.7 181.1 341.2 182.5 345.0 183.7 348.7 186.8 360.0 191.6 378.5 195.4 393.8 203.4 428.1 205.1 434.4 209.7 450.4 215.6 473.6 218.6 483.9 220.2 488.4 220.9 489.8 222.7 492.6 223.6 493.7 224.4 494.2 224.8 494.2 225.1 493.9 225.9 491.5 226.7 487.5 228.4 477.7 230.1 465.6 231.7 450.0 233.4 421.6 235.1 396.6 237.3 342.2 240.0 287.6 242.0 253.6 244.1 222.1 246.0 198.2 246.8 189.6 247.5 183.7 248.4 177.8 251.1 162.6 252.1 159.3 252.5 158.5 252.8 158.3 253.2 158.6 253.6 159.3 254.6 161.8 255.2 163.6 263.5 195.2 265.7 202.3 268.4 209.4 273.5 221.2 275.6 226.4 283.6 249.0 285.1 252.3 286.9 255.7 292.4 264.5 298.7 273.3 303.5 279.4 315.2 293.2 324.5 305.7 327.8 309.8 331.4 313.9 340.1 322.9 345.5 329.4 347.6 331.7 353.2 336.6 354.7 337.6 356.1 338.3 357.5 338.5 358.9 338.2 360.5 337.5 362.4 336.1 365.2 333.8 366.1 332.9 370.2 327.0 371.7 325.3 374.8 322.6 376.5 321.3 378.1 320.3 379.6 319.9 380.4 319.8 381.3 319.9 382.3 320.3 383.3 320.8 389.9 325.7 393.7 329.2 395.2 330.4 396.1 330.9 397.0 331.2 397.8 331.3 398.4 331.1 399.1 330.6 399.8 329.7 401.5 326.8 404.8 320.4 408.2 312.3 409.7 309.4 412.2 306.1 413.8 304.3 415.2 303.3 415.9 303.0 416.5 303.0 417.9 303.5 419.5 304.6 424.1 309.1 428.7 314.3 430.7 316.2 434.9 319.8 442.7 325.8 448.9 331.6 451.5 333.6 453.3 334.5 454.9 334.9 457.0 334.8 461.4 333.9 463.2 333.7 464.2 333.8 465.2 334.4 466.1 335.4 467.1 336.8 471.6 344.5 475.5 352.9 476.7 355.2 477.9 356.9 478.9 357.6 479.9 357.7 481.4 357.5 487.5 356.0 489.0 355.9 490.3 356.0 493.0 356.8 498.8 359.6 501.3 360.5 505.4 361.2 516.5 362.3 521.4 363.1 525.9 364.4 535.9 368.0 540.2 369.1 548.3 370.3 563.6 371.9 570.1 372.7 583.7 374.6 596.5 376.6 607.6 378.6 625.2 382.3 635.3 384.2 646.5 386.7 651.9 387.7 655.3 388.1 658.4 388.3 661.2 388.4 663.2 388.2 665.1 387.8 667.2 387.2 674.2 384.7 676.8 383.9 679.4 383.3 681.8 383.1 684.2 383.4 686.8 384.1 689.5 385.3 696.4 388.7 698.4 389.5 700.2 390.0 701.8 390.3 704.5 390.4 715.7 390.9 721.3 390.9 725.8 390.6 730.8 390.0 744.3 387.9 748.4 387.5 752.1 387.3 755.6 387.5 763.6 389.1 767.2 389.5 770.0 389.2 776.1 387.9 777.5 387.7 778.8 387.7 781.4 388.2 787.4 390.0 789.0 390.2 790.5 390.3 792.2 390.1 794.0 389.6 801.7 387.0 803.4 386.6 804.9 386.5 807.2 386.6 809.8 387.0 812.8 387.7 821.8 390.3 824.7 390.8 827.3 391.0 855.5 391.0 861.4 390.7 875.6 389.7 882.8 389.5 887.5 389.9 898.4 391.6 901.2 391.8 904.2 391.8 908.1 391.5 912.5 391.1 927.4 388.9 933.1 388.2 948.8 386.9 958.2 386.5 961.9 386.5 965.2 386.8 969.1 387.4 974.4 388.5" stroke="#4DBEEE"/>
<path d="M98.4 174.7L99.5 172.0 100.3 170.7 102.1 169.3 102.9 169.0 103.5 169.0 104.1 169.5 104.8 170.5 108.9 178.6 110.8 182.8 112.4 186.8 116.0 199.0 120.8 213.0 122.8 218.3 127.7 230.3 131.7 242.2 132.6 244.2 133.4 245.5 134.6 246.9 137.8 250.0 142.5 255.9 145.2 258.6 147.4 260.4 150.3 262.2 153.2 263.5 155.2 264.2 159.5 265.2 161.4 265.9 163.6 267.2 165.9 268.9 167.8 270.6 169.5 272.6 171.3 275.2 173.1 278.4 174.8 282.4 179.5 295.5 182.5 304.6 187.0 319.5 191.8 333.2 197.3 354.3 204.5 380.2 206.3 385.8 209.4 393.6 211.3 397.6 212.8 400.4 218.0 409.4 220.0 411.6 220.6 412.0 221.2 412.3 221.6 412.2 221.9 412.0 222.6 410.8 223.6 408.2 224.3 405.4 226.0 396.1 226.9 390.4 227.7 384.1 228.4 376.6 229.6 360.0 232.2 319.2 239.2 193.0 240.1 180.2 241.2 171.3 243.8 155.7 246.3 134.2 248.2 121.4 249.0 117.3 250.1 113.5 250.6 112.3 251.1 111.5 251.6 110.9 252.0 110.7 252.6 111.0 253.3 111.9 254.0 113.4 254.8 115.5 257.4 123.2 260.6 133.7 269.2 159.3 274.6 173.9 277.3 182.9 278.4 186.0 280.1 190.1 282.2 194.5 288.6 207.1 292.4 213.9 297.4 221.7 305.1 232.3 311.8 241.0 318.9 249.5 321.7 252.4 325.6 255.7 327.2 257.2 337.8 269.1 348.8 280.4 350.1 281.5 352.1 282.7 353.5 283.4 355.3 284.0 356.7 284.3 357.8 284.2 359.1 283.5 360.6 282.3 363.2 279.8 364.1 278.7 368.2 272.3 369.7 270.3 374.4 265.9 375.9 264.8 377.3 264.2 378.2 264.0 379.3 264.1 380.5 264.3 381.7 264.7 383.6 265.6 388.6 268.3 392.3 271.0 393.7 271.8 394.6 272.2 395.4 272.3 396.0 272.2 396.6 271.9 397.5 271.1 398.6 269.6 402.4 263.3 403.6 261.0 407.0 253.7 410.7 247.6 411.7 246.1 412.6 245.1 413.4 244.6 414.2 244.5 415.3 244.8 416.6 245.6 419.6 248.0 421.2 249.5 427.1 256.4 439.0 271.7 440.7 273.4 443.2 275.4 454.0 282.4 458.8 285.2 461.9 286.6 469.7 289.6 478.6 294.2 484.1 296.7 486.8 297.8 488.6 298.3 490.5 298.7 498.5 299.7 502.0 300.4 505.8 301.6 515.5 304.9 521.9 306.5 530.6 308.3 550.4 311.9 570.7 315.3 588.1 318.0 598.9 319.4 622.2 322.1 631.1 323.2 636.2 324.1 647.3 326.5 652.0 327.3 656.9 327.8 661.4 327.9 666.7 327.7 679.5 326.8 686.0 326.7 691.4 327.2 700.6 328.6 710.8 330.9 713.1 331.3 715.1 331.5 730.5 332.1 761.5 332.6 774.6 333.0 781.6 333.4 796.8 334.8 803.5 335.2 830.6 336.0 849.2 336.8 852.9 336.8 854.9 336.6 857.3 336.2 864.0 334.8 866.0 334.6 867.8 334.5 870.3 334.9 875.7 336.5 878.1 336.8 880.8 336.4 886.7 334.7 889.3 334.2 921.0 334.5 923.2 334.3 925.6 333.9 935.9 331.6 940.5 330.9 944.5 330.8 954.4 331.4 958.1 331.5 959.2 331.2 960.4 330.8 965.8 328.1 970.3 326.6 974.4 325.5" stroke="#A2142F"/>
<path d="M98.8 194.5L101.2 175.7 102.2 170.7 103.2 166.8 104.0 165.0 105.1 163.6 106.1 162.8 106.8 162.6 107.4 162.7 108.1 163.1 108.9 163.8 110.0 165.0 110.5 165.8 111.9 169.2 114.3 176.5 118.1 189.3 126.3 214.2 130.2 223.5 132.0 227.2 133.6 230.0 135.5 232.9 137.8 235.7 140.3 238.4 145.2 243.2 148.7 247.3 150.2 248.9 151.8 250.0 155.6 251.9 162.3 255.8 164.1 257.1 165.0 258.3 167.3 262.1 171.4 267.5 173.2 270.4 174.5 273.0 176.0 276.6 179.8 287.1 188.9 317.6 190.2 321.6 193.0 329.2 194.1 332.7 195.0 336.2 196.7 344.5 198.4 352.1 202.8 370.4 207.9 390.3 210.3 398.7 212.8 405.3 215.4 411.1 216.5 413.3 217.6 414.8 218.8 416.0 220.2 416.9 221.4 417.3 221.9 417.3 222.3 417.1 223.4 415.7 224.1 414.3 224.8 411.9 226.4 402.6 228.7 391.1 229.9 382.4 231.1 367.7 233.6 329.0 236.9 271.7 240.1 219.3 242.0 181.8 243.4 162.4 244.3 152.5 245.3 143.5 249.4 113.9 250.1 110.4 251.5 105.7 252.5 103.3 252.9 102.8 253.3 102.5 253.7 102.6 254.2 102.9 255.2 104.2 256.3 106.4 258.0 110.5 259.2 115.0 262.0 128.3 263.8 134.4 269.9 151.8 273.3 160.9 278.5 174.0 282.1 184.2 284.4 189.7 287.0 195.2 290.9 202.9 294.4 209.2 297.6 214.4 301.4 219.9 305.6 225.4 310.5 231.2 314.7 235.8 323.7 244.8 327.6 248.9 341.6 265.3 348.4 272.7 349.7 274.0 350.8 274.9 352.5 275.9 353.8 276.4 355.7 276.9 357.0 277.0 357.8 276.8 358.7 276.2 360.1 274.7 363.7 270.1 367.7 263.7 369.4 261.5 372.0 259.5 374.5 257.8 376.5 256.7 378.3 256.1 379.4 255.9 380.4 255.9 381.3 256.1 382.2 256.6 383.7 257.6 386.9 260.2 388.9 261.7 392.3 264.7 393.7 265.8 394.7 266.3 395.6 266.6 396.4 266.7 397.0 266.4 397.9 265.6 398.9 264.1 402.4 257.2 403.6 254.2 406.4 246.3 407.8 243.3 410.5 239.3 412.2 237.2 413.8 235.9 414.6 235.6 415.3 235.5 416.3 235.8 417.4 236.5 421.0 240.1 425.6 246.6 432.4 256.9 434.3 259.4 436.1 261.5 437.8 263.1 442.6 267.1 450.8 273.5 455.3 277.2 457.3 278.7 459.0 279.5 461.5 280.3 464.2 280.9 467.5 281.2 475.1 280.8 475.9 280.8 476.6 281.0 477.5 281.6 478.6 282.6 482.5 286.7 486.5 291.3 487.6 292.2 488.7 292.7 491.6 293.6 495.1 294.1 514.1 295.7 520.3 296.5 523.0 297.1 526.1 298.0 539.3 302.5 546.8 304.3 582.7 311.3 603.2 314.8 617.7 317.8 626.7 319.6 631.9 320.3 643.3 321.3 648.4 322.0 650.9 322.7 656.5 325.3 658.9 326.0 660.5 326.1 662.1 325.8 663.9 325.1 667.8 323.1 669.5 322.4 671.3 322.0 673.1 321.9 676.2 322.2 679.7 322.8 690.3 325.5 692.6 326.3 698.5 329.0 700.2 329.5 701.7 329.7 709.0 329.6 720.6 329.1 734.8 327.9 741.7 327.8 755.9 328.2 775.0 329.3 786.0 330.6 790.2 330.8 793.8 330.4 802.0 328.7 803.9 328.5 805.6 328.5 808.4 328.7 811.5 329.1 821.4 331.3 824.9 331.9 828.1 332.2 831.1 332.3 836.7 332.1 842.8 331.7 866.8 329.3 877.0 328.6 885.6 328.5 903.8 329.3 907.7 329.2 911.8 329.0 917.0 328.5 933.5 326.4 951.2 325.4 957.7 324.8 960.3 324.1 966.3 321.6 967.7 321.2 969.0 321.0 970.1 321.1 971.3 321.4 972.6 322.1 974.4 323.3" stroke="#EDB120"/>
</g>
<text x="109.57" y="562.6" font-family="Liberation Serif, serif" font-size="28" text-anchor="middle" fill="#262626" stroke="#262626" stroke-width="0.3">300</text>
<text x="217.67" y="562.6" font-family="Liberation Serif, serif" font-size="28" text-anchor="middle" fill="#262626" stroke="#262626" stroke-width="0.3">400</text>
<text x="325.78" y="562.6" font-family="Liberation Serif, serif" font-size="28" text-anchor="middle" fill="#262626" stroke="#262626" stroke-width="0.3">500</text>
<text x="433.88" y="562.6" font-family="Liberation Serif, serif" font-size="28" text-anchor="middle" fill="#262626" stroke="#262626" stroke-width="0.3">600</text>
<text x="541.99" y="562.6" font-family="Liberation Serif, serif" font-size="28" text-anchor="middle" fill="#262626" stroke="#262626" stroke-width="0.3">700</text>
<text x="650.09" y="562.6" font-family="Liberation Serif, serif" font-size="28" text-anchor="middle" fill="#262626" stroke="#262626" stroke-width="0.3">800</text>
<text x="758.19" y="562.6" font-family="Liberation Serif, serif" font-size="28" text-anchor="middle" fill="#262626" stroke="#262626" stroke-width="0.3">900</text>
<text x="866.30" y="562.6" font-family="Liberation Serif, serif" font-size="28" text-anchor="middle" fill="#262626" stroke="#262626" stroke-width="0.3">1000</text>
<text x="974.40" y="562.6" font-family="Liberation Serif, serif" font-size="28" text-anchor="middle" fill="#262626" stroke="#262626" stroke-width="0.3">1100</text>
<text x="77.3" y="511.13" font-family="Liberation Serif, serif" font-size="28" text-anchor="end" fill="#262626" stroke="#262626" stroke-width="0.3">1.8</text>
<text x="77.3" y="411.71" font-family="Liberation Serif, serif" font-size="28" text-anchor="end" fill="#262626" stroke="#262626" stroke-width="0.3">2</text>
<text x="77.3" y="312.29" font-family="Liberation Serif, serif" font-size="28" text-anchor="end" fill="#262626" stroke="#262626" stroke-width="0.3">2.2</text>
<text x="77.3" y="212.87" font-family="Liberation Serif, serif" font-size="28" text-anchor="end" fill="#262626" stroke="#262626" stroke-width="0.3">2.4</text>
<text x="77.3" y="113.45" font-family="Liberation Serif, serif" font-size="28" text-anchor="end" fill="#262626" stroke="#262626" stroke-width="0.3">2.6</text>
<g font-family="Liberation Serif, serif" fill="#262626" stroke="#262626" stroke-width="0.3"><text x="88.5" y="26.2" font-size="34">×</text><text x="108" y="22.3" font-size="28">10</text><text x="136" y="15.5" font-size="25">−</text><text x="150.3" y="12.8" font-size="17">4</text></g>
<g font-family="Liberation Serif, serif" fill="#262626" stroke="#262626" stroke-width="0.3"><text transform="translate(364.50,599.5) scale(1.088,1)" font-size="29" font-style="normal">vacuum</text><text transform="translate(475.20,599.5) scale(1.047,1)" font-size="29" font-style="normal">wavelength</text><text transform="translate(628.28,599.5) scale(1.177,1)" font-size="29" font-style="italic">λ</text><line x1="643.3" y1="608.5" x2="655.9" y2="576.6" stroke-width="1.3"/><text transform="translate(657.52,599.5) scale(1.075,1)" font-size="29" font-style="normal">nm</text></g>
<g transform="translate(25.5,361) rotate(-90)" font-family="Liberation Serif, serif" fill="#262626" stroke="#262626" stroke-width="0.3"><text transform="translate(-1.05,0.00) scale(1.172,1)" font-size="31.0" font-style="italic">α</text><text transform="translate(20.81,0.50) scale(1.013,1)" font-size="34.0" font-style="normal">(</text><text transform="translate(32.18,-0.50) scale(1.138,1)" font-size="30.2" font-style="italic">λ</text><text transform="translate(44.77,0.50) scale(1.045,1)" font-size="34.0" font-style="normal">)</text><line x1="60.5" y1="6.5" x2="72.2" y2="-23.9" stroke-width="1.3"/><text transform="translate(74.81,0.50) scale(1.013,1)" font-size="34.0" font-style="normal">(</text><text transform="translate(85.15,-0.50) scale(0.909,1)" font-size="33.6" font-style="normal">L</text><text transform="translate(107.02,-0.50) scale(1.111,1)" font-size="28.3" font-style="normal">g</text><line x1="124.5" y1="-17.7" x2="137" y2="-17.7" stroke-width="1.3"/><text transform="translate(139.00,-11.50) scale(1.130,1)" font-size="17.7" font-style="normal">1</text><text transform="translate(150.31,0.50) scale(1.013,1)" font-size="34.0" font-style="normal">)</text></g>
<rect x="831.9" y="54.2" width="119.7" height="186.8" fill="#fff" stroke="#262626" stroke-width="1.0"/>
<line x1="839.8" y1="72.60" x2="919.8" y2="72.60" stroke="#D95319" stroke-width="2.7"/>
<text transform="translate(926.20,78.70) scale(0.88,1)" font-family="Liberation Serif, serif" font-size="27" fill="#262626" stroke="#262626" stroke-width="0.3">A</text>
<line x1="839.8" y1="102.55" x2="919.8" y2="102.55" stroke="#7E2F8E" stroke-width="2.7"/>
<text transform="translate(925.24,108.65) scale(0.96,1)" font-family="Liberation Serif, serif" font-size="27" fill="#262626" stroke="#262626" stroke-width="0.3">B</text>
<line x1="839.8" y1="132.50" x2="919.8" y2="132.50" stroke="#77AC30" stroke-width="2.7"/>
<text transform="translate(925.18,138.60) scale(1.02,1)" font-family="Liberation Serif, serif" font-size="27" fill="#262626" stroke="#262626" stroke-width="0.3">C</text>
<line x1="839.8" y1="162.45" x2="919.8" y2="162.45" stroke="#4DBEEE" stroke-width="2.7"/>
<text transform="translate(925.24,168.55) scale(0.96,1)" font-family="Liberation Serif, serif" font-size="27" fill="#262626" stroke="#262626" stroke-width="0.3">D</text>
<line x1="839.8" y1="192.40" x2="919.8" y2="192.40" stroke="#A2142F" stroke-width="2.7"/>
<text transform="translate(925.08,198.50) scale(1.12,1)" font-family="Liberation Serif, serif" font-size="27" fill="#262626" stroke="#262626" stroke-width="0.3">E</text>
<line x1="839.8" y1="222.35" x2="919.8" y2="222.35" stroke="#EDB120" stroke-width="2.7"/>
<text transform="translate(925.05,228.45) scale(1.15,1)" font-family="Liberation Serif, serif" font-size="27" fill="#262626" stroke="#262626" stroke-width="0.3">F</text>
</svg></body></html>
